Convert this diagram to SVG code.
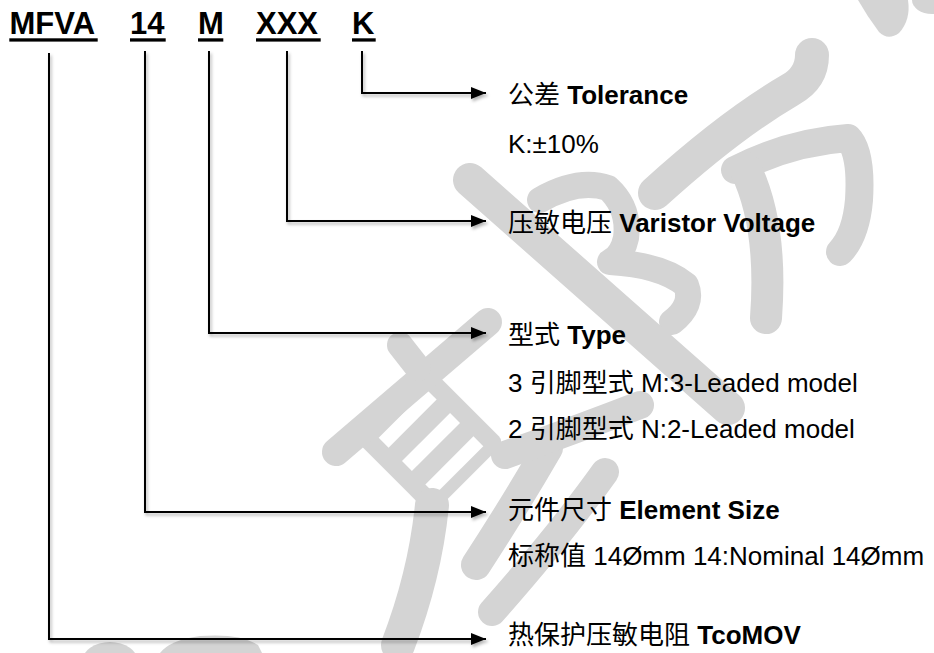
<svg xmlns="http://www.w3.org/2000/svg" width="934" height="653" viewBox="0 0 934 653">
<defs>
<style>
.wm{fill:none;stroke:#d4d4d4;stroke-linecap:round;stroke-linejoin:round}
.wmf{fill:#d4d4d4}
.hdr{font-family:"Liberation Sans",Arial,sans-serif;font-weight:bold;font-size:31px;fill:#000}
.ul{fill:#000}
.lbl{font-family:"Liberation Sans","Noto Sans CJK SC",sans-serif;font-size:26px;fill:#000}
.b{font-weight:bold}
.conn{fill:none;stroke:#000;stroke-width:2;marker-end:url(#ah)}
</style>
<marker id="ah" markerUnits="userSpaceOnUse" markerWidth="16" markerHeight="13" refX="15" refY="6" orient="auto">
<path d="M0,0 L15,6 L0,12 Z" fill="#000"/>
</marker>
<filter id="sh" x="-5%" y="-5%" width="110%" height="110%">
<feDropShadow dx="1.5" dy="2.5" stdDeviation="1.5" flood-color="#000" flood-opacity="0.3"/>
</filter>
</defs>
<rect width="934" height="653" fill="#fff"/>
<g id="watermark">
<path class="wmf" d="M858 0 L908 0 Q911 20 899 33 Q888 41 879 32 Q867 16 858 0 Z"/>
<ellipse class="wmf" cx="932" cy="0" rx="20" ry="14"/>
<path class="wm" stroke-width="34" d="M812 55 Q812 78 790 90 Q730 125 655 193"/>
<path class="wm" stroke-width="28" d="M735 170 Q790 142 848 138 Q862 152 859 200 Q856 235 840 252"/>
<path class="wm" stroke-width="32" d="M745 168 Q773 225 766 318"/>
<path class="wm" stroke-width="26" d="M540 200 Q578 178 608 188 Q630 208 626 238 Q622 256 610 262 Q662 265 686 285 Q694 305 672 322"/>
<path class="wm" stroke-width="34" d="M470 180 L728 408"/>
<g transform="translate(431 442) rotate(-45)">
<rect class="wmf" x="-52" y="-52" width="104" height="104" rx="8"/>
<rect x="-34" y="-40" width="68" height="14" fill="#fff"/>
<rect x="-34" y="-7" width="68" height="14" fill="#fff"/>
<rect x="-34" y="26" width="68" height="14" fill="#fff"/>
</g>
<path class="wm" stroke-width="28" d="M336 452 L488 322"/>
<path class="wm" stroke-width="26" d="M400 345 L418 368"/>
<path class="wm" stroke-width="34" d="M432 505 Q425 575 398 645"/>
<path class="wm" stroke-width="30" d="M548 448 Q515 505 476 565"/>
<path class="wm" stroke-width="28" d="M605 472 Q560 535 492 612"/>
<path class="wm" stroke-width="28" d="M505 455 Q575 430 640 405"/>
<ellipse class="wmf" cx="110" cy="662" rx="28" ry="20"/>
<path class="wmf" d="M160 653 Q170 640 200 636 Q240 633 258 645 L262 653 Z"/>
</g>
<g id="connectors" filter="url(#sh)">
<path class="conn" d="M362 51 V93 H486"/>
<path class="conn" d="M287 51 V221 H486"/>
<path class="conn" d="M209 51 V333 H486"/>
<path class="conn" d="M145 51 V512 H486"/>
<path class="conn" d="M49 53 V639 H486"/>
</g>
<g id="code-MFVA"><text class="hdr" x="9.5" y="34">MFVA</text><rect class="ul" x="9.3" y="38.3" width="88.4" height="3.3"/></g>
<g id="code-14"><text class="hdr" x="130" y="34">14</text><rect class="ul" x="130" y="38.3" width="35.7" height="3.3"/></g>
<g id="code-M"><text class="hdr" x="198" y="34">M</text><rect class="ul" x="198" y="38.3" width="25.3" height="3.3"/></g>
<g id="code-XXX"><text class="hdr" x="256" y="34">XXX</text><rect class="ul" x="256" y="38.3" width="64.7" height="3.3"/></g>
<g id="code-K"><text class="hdr" x="352" y="34">K</text><rect class="ul" x="352" y="38.3" width="23.7" height="3.3"/></g>
<g id="tolerance">
<text class="lbl" x="508" y="104">公差 <tspan class="b">Tolerance</tspan></text>
<text class="lbl" x="508" y="153">K:±10%</text>
</g>
<g id="voltage">
<text class="lbl" x="508" y="232">压敏电压 <tspan class="b">Varistor Voltage</tspan></text>
</g>
<g id="type">
<text class="lbl" x="508" y="344">型式 <tspan class="b">Type</tspan></text>
<text class="lbl" x="508" y="392">3 引脚型式 M:3-Leaded model</text>
<text class="lbl" x="508" y="438">2 引脚型式 N:2-Leaded model</text>
</g>
<g id="size">
<text class="lbl" x="508" y="519">元件尺寸 <tspan class="b">Element Size</tspan></text>
<text class="lbl" x="508" y="565">标称值 14Ømm 14:Nominal 14Ømm</text>
</g>
<g id="product">
<text class="lbl" x="508" y="644">热保护压敏电阻 <tspan class="b">TcoMOV</tspan></text>
</g>
</svg>
